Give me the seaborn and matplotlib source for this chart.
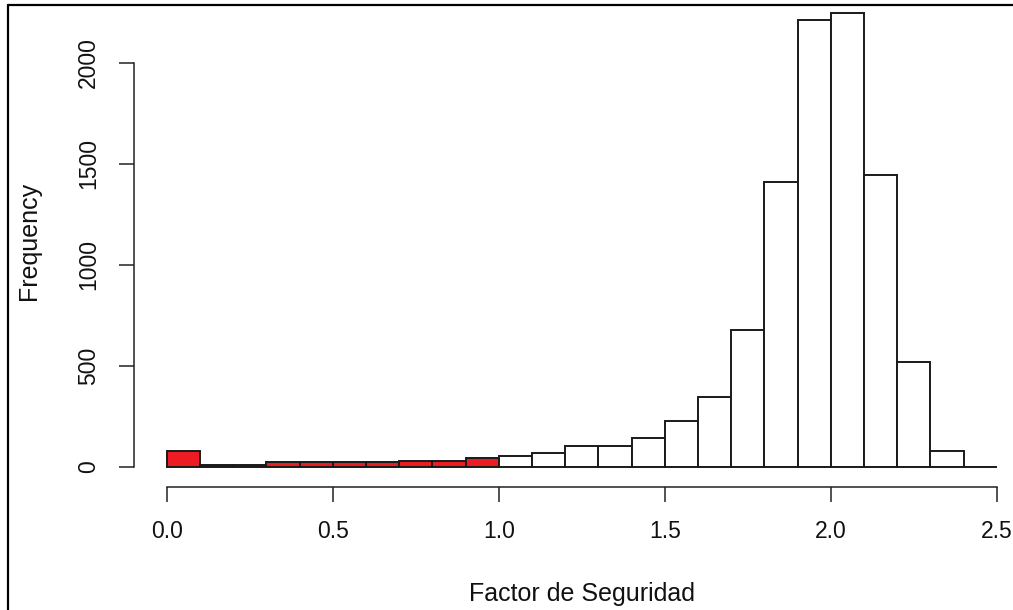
import matplotlib
matplotlib.use("Agg")
import matplotlib.pyplot as plt
from matplotlib.lines import Line2D
import pandas as pd
import seaborn as sns

# Histogram bins (width 0.1) and counts
bin_edges = [round(0.1 * i, 1) for i in range(26)]
counts = [75, 10, 10, 20, 20, 20, 20, 29, 29, 42,
          53, 68, 102, 102, 142, 226, 346, 678, 1412, 2212,
          2250, 1447, 519, 77, 0]
unsafe_limit = 1.0
xticks = [0.0, 0.5, 1.0, 1.5, 2.0, 2.5]
yticks = [0, 500, 1000, 1500, 2000]

sns.set_style("ticks")
plt.rcParams["font.family"] = ["Liberation Sans", "DejaVu Sans"]

W, H = 1013, 610
fig = plt.figure(figsize=(W / 100, H / 100), dpi=100)

# axes placed like R's plot region (extends beyond the cropped screenshot)
x0, x1 = 133.5, 1029.9
y_bot, y_top = 486.5, -5.6
ax = fig.add_axes([x0 / W, (H - y_bot) / H, (x1 - x0) / W, (y_bot - y_top) / H])

df = pd.DataFrame({
    "fs": [(a + b) / 2 for a, b in zip(bin_edges[:-1], bin_edges[1:])],
    "n": counts,
})
low = df[df["fs"] < unsafe_limit]
high = df[df["fs"] >= unsafe_limit]

kw = dict(x="fs", weights="n", alpha=1, edgecolor="#1a1a1a", linewidth=1.4, ax=ax)
sns.histplot(data=low, bins=[e for e in bin_edges if e <= unsafe_limit],
             color="#ED1C24", **kw)
sns.histplot(data=high, bins=[e for e in bin_edges if e >= unsafe_limit],
             color="white", **kw)

ax.set_xlim(-0.1, 2.6)
ax.set_ylim(-99, 2340)

for s in ("top", "right"):
    ax.spines[s].set_visible(False)
ax.spines["left"].set_bounds(0, 2000)
ax.spines["bottom"].set_bounds(0, 2.5)
for s in ("left", "bottom"):
    ax.spines[s].set_linewidth(1.1)
    ax.spines[s].set_color("#222222")

ax.set_xticks(xticks)
ax.set_xticklabels([f"{v:.1f}" for v in xticks])
ax.set_yticks(yticks)
ax.set_yticklabels([str(v) for v in yticks], rotation=90, va="center")
ax.tick_params(axis="both", length=10.8, width=1.1, color="#222222",
               labelsize=16.5, pad=13.5, labelcolor="#111111")

ax.set_xlabel("Factor de Seguridad", fontsize=18, color="#111111")
ax.set_ylabel("Frequency", fontsize=18, color="#111111")
ax.xaxis.set_label_coords(0.5, -0.194)
ax.yaxis.set_label_coords(-0.103, 0.5)
ax.grid(False)

# screenshot frame (left and top edges)
fig.add_artist(Line2D([8 / W, 8 / W], [0, 1 - 4.5 / H], transform=fig.transFigure,
                      color="black", linewidth=1.6))
fig.add_artist(Line2D([8 / W, 1], [1 - 4.5 / H, 1 - 4.5 / H], transform=fig.transFigure,
                      color="black", linewidth=1.6))

fig.savefig("out.png", dpi=100)
